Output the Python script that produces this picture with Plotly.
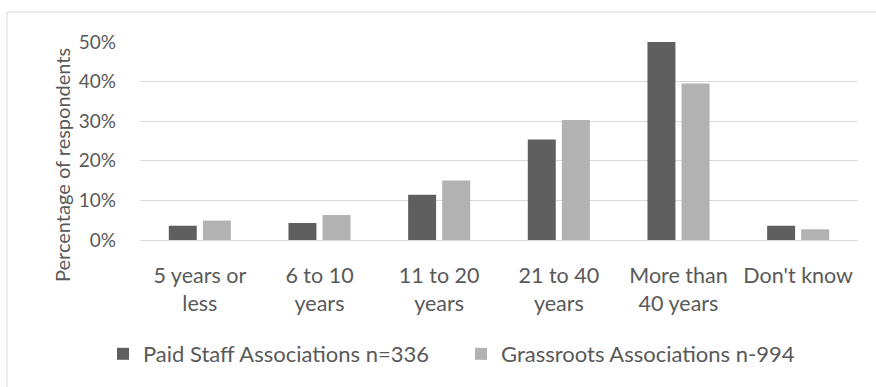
import plotly.graph_objects as go

categories = ["5 years or<br>less", "6 to 10<br>years", "11 to 20<br>years",
              "21 to 40<br>years", "More than<br>40 years", "Don't know"]
paid_staff = [0.036, 0.043, 0.114, 0.254, 0.501, 0.036]
grassroots = [0.049, 0.063, 0.150, 0.303, 0.395, 0.027]
series_names = ["Paid Staff Associations n=336", "Grassroots Associations n-994"]
y_ticks = [0, 0.1, 0.2, 0.3, 0.4, 0.5]
y_title = "Percentage of respondents"

FONT = "Lato, Liberation Sans, sans-serif"
TEXT = "#595959"
GRID = "#d9d9d9"

# plot area in pixels: x 140..858, y 42..240
PLOT_W, PLOT_H = 718, 198

fig = go.Figure()
fig.add_trace(go.Bar(x=categories, y=paid_staff, name=series_names[0],
                     marker=dict(color="#5f5f5f", line=dict(width=0))))
fig.add_trace(go.Bar(x=categories, y=grassroots, name=series_names[1],
                     marker=dict(color="#b2b2b2", line=dict(width=0))))

fig.update_layout(
    width=876, height=387,
    margin=dict(l=140, r=18, t=42, b=147),
    paper_bgcolor="white", plot_bgcolor="white",
    font=dict(family=FONT, size=21, color=TEXT),
    barmode="group", bargap=0.43, bargroupgap=0.18,
    showlegend=True,
    legend=dict(orientation="h", x=-37 / PLOT_W, xanchor="left",
                y=-114 / PLOT_H, yanchor="middle",
                font=dict(family=FONT, size=22, color=TEXT),
                itemwidth=30, entrywidth=313, entrywidthmode="pixels",
                traceorder="normal"),
    shapes=[dict(type="rect", xref="paper", yref="paper",
                 x0=-133 / PLOT_W, x1=1.2, y0=-1.0, y1=1 + 30 / PLOT_H,
                 line=dict(color=GRID, width=1), layer="below")],
    annotations=[dict(text=y_title, textangle=-90, showarrow=False,
                      xref="paper", yref="paper",
                      x=-78 / PLOT_W, y=75 / PLOT_H,
                      xanchor="center", yanchor="middle",
                      font=dict(family=FONT, size=20, color=TEXT))],
)

fig.update_xaxes(showgrid=False, showline=True, linecolor=GRID, linewidth=1,
                 ticks="", tickfont=dict(family=FONT, size=21.5, color=TEXT),
                 ticklabelstandoff=16)
fig.update_yaxes(range=[0, 0.5], tickvals=y_ticks, tickformat=".0%",
                 showgrid=True, gridcolor=GRID, gridwidth=1,
                 zeroline=False, showline=False, ticks="",
                 ticklabelstandoff=23,
                 tickfont=dict(family=FONT, size=19, color=TEXT))

fig.write_html("out.html")
